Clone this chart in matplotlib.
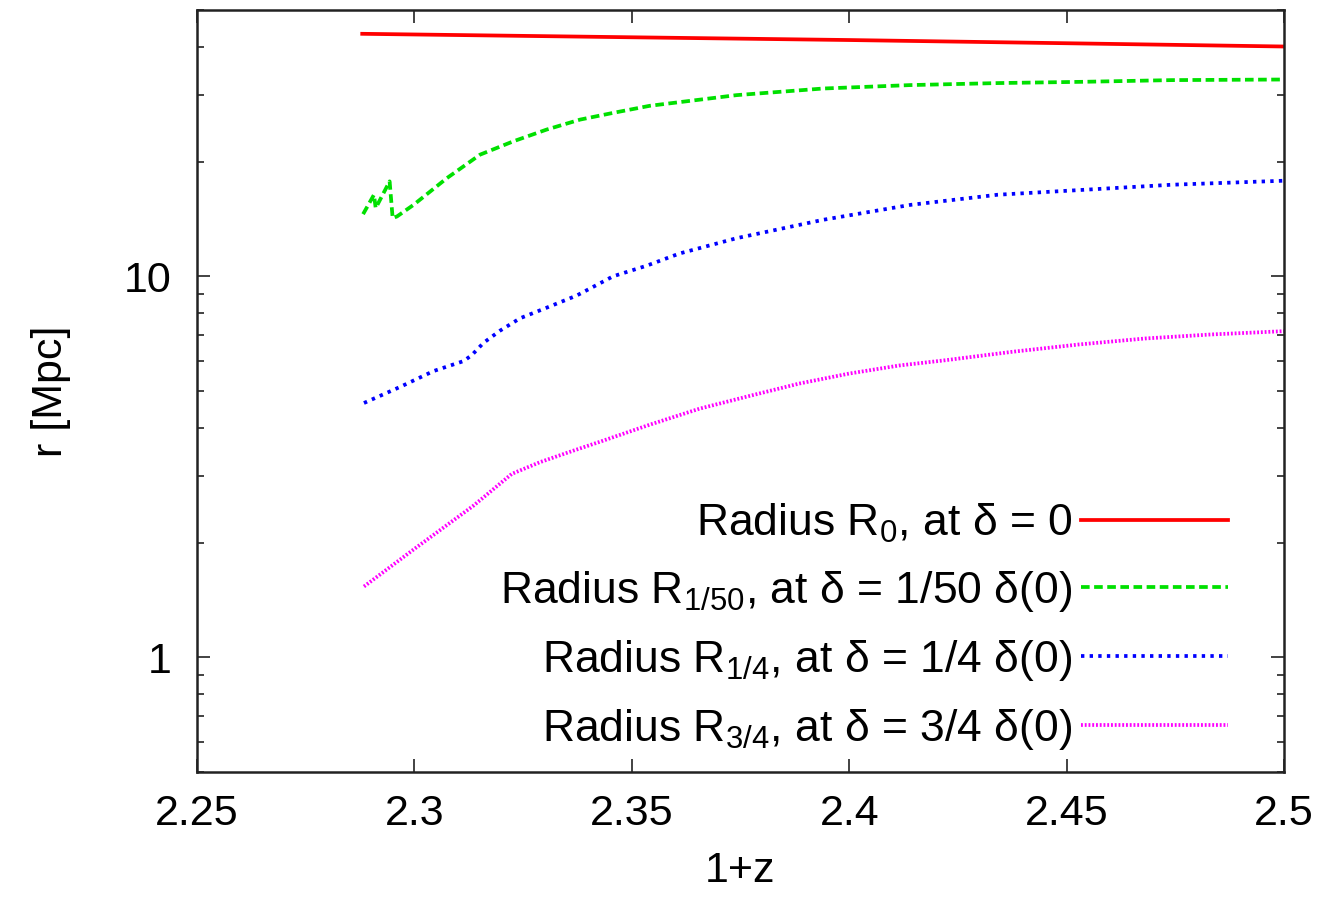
import matplotlib
matplotlib.use("Agg")
import matplotlib.pyplot as plt
from matplotlib.ticker import LogLocator, NullFormatter, FixedLocator, FixedFormatter

plt.rcParams['font.family'] = ['Liberation Sans', 'DejaVu Sans']
plt.rcParams['mathtext.fontset'] = 'custom'
plt.rcParams['mathtext.rm'] = 'Liberation Sans'
plt.rcParams['mathtext.it'] = 'Liberation Sans'
plt.rcParams['mathtext.default'] = 'regular'

# ---- data ----
x_r0 = [2.288, 2.35, 2.40, 2.45, 2.50]
y_r0 = [43.3, 42.4, 41.7, 40.9, 40.1]

x_r150 = [2.2882, 2.2907, 2.2911, 2.2943, 2.2950, 2.2960, 2.2998, 2.3075, 2.3151,
          2.3228, 2.3304, 2.3381, 2.3457, 2.3541, 2.3741, 2.3940, 2.4140, 2.4342,
          2.4541, 2.4741, 2.5000]
y_r150 = [14.56, 16.37, 15.10, 17.75, 14.21, 14.36, 15.40, 18.11, 20.86,
          22.62, 24.27, 25.78, 26.85, 28.02, 29.89, 31.11, 31.76, 32.15,
          32.40, 32.73, 32.85]

x_r14 = [2.2884, 2.2968, 2.3044, 2.3113, 2.3132, 2.3159, 2.3197, 2.3243, 2.3304,
         2.3373, 2.3411, 2.3457, 2.3534, 2.3610, 2.3741, 2.3940, 2.4141, 2.4341,
         2.4541, 2.4741, 2.5000]
y_r14 = [4.65, 5.13, 5.64, 5.99, 6.21, 6.69, 7.20, 7.76, 8.27,
         8.90, 9.38, 10.0, 10.66, 11.48, 12.59, 14.07, 15.40, 16.37,
         16.87, 17.39, 17.82]

x_r34 = [2.2884, 2.2998, 2.3136, 2.3224, 2.3289, 2.3365, 2.3427, 2.3541, 2.3656,
         2.3771, 2.3885, 2.4000, 2.4115, 2.4222, 2.4375, 2.4528, 2.4681, 2.4833,
         2.5000]
y_r34 = [1.534, 1.918, 2.501, 3.030, 3.253, 3.485, 3.680, 4.078, 4.494,
         4.854, 5.230, 5.556, 5.833, 6.023, 6.337, 6.623, 6.868, 7.037,
         7.178]

labels = ["Radius R$_{0}$, at δ = 0",
          "Radius R$_{1/50}$, at δ = 1/50 δ(0)",
          "Radius R$_{1/4}$, at δ = 1/4 δ(0)",
          "Radius R$_{3/4}$, at δ = 3/4 δ(0)"]
x_ticks = [2.25, 2.3, 2.35, 2.4, 2.45, 2.5]
x_ticklabels = ["2.25", "2.3", "2.35", "2.4", "2.45", "2.5"]
y_ticks = [1, 10]
y_ticklabels = ["1", "10"]

W, H = 1329, 908
fig = plt.figure(figsize=(W / 100, H / 100), dpi=100)
ax = fig.add_axes([197 / W, (H - 772) / H, (1284 - 197) / W, (772 - 10) / H])

lw = 2.7
ax.plot(x_r0, y_r0, color='#ff0000', lw=lw, label=labels[0])
ax.plot(x_r150, y_r150, color='#00e000', lw=lw, linestyle=(0, (2.3, 1.2)), label=labels[1])
ax.plot(x_r14, y_r14, color='#0000ff', lw=lw, linestyle=(0, (0.9, 1.4)), label=labels[2])
ax.plot(x_r34, y_r34, color='#ff00ff', lw=lw, linestyle=(0, (0.5, 0.5)), label=labels[3])

ax.set_yscale('log')
ax.set_xlim(2.25, 2.5)
ax.set_ylim(0.5, 50)
ax.xaxis.set_major_locator(FixedLocator(x_ticks))
ax.xaxis.set_major_formatter(FixedFormatter(x_ticklabels))
ax.yaxis.set_minor_locator(LogLocator(base=10, subs=range(2, 10), numticks=10))
ax.yaxis.set_minor_formatter(NullFormatter())
ax.set_yticks(y_ticks)
ax.set_yticklabels(y_ticklabels)

ax.tick_params(which='both', direction='in', top=True, right=True, color='#222222')
ax.tick_params(which='major', length=9.5, width=1.2)
ax.tick_params(which='minor', length=5, width=1.2)
ax.tick_params(axis='x', which='major', pad=16, labelsize=31)
ax.tick_params(axis='y', which='major', pad=18, labelsize=31)
for s in ax.spines.values():
    s.set_linewidth(1.8)
    s.set_color('#222222')

ax.set_xlabel("1+z", fontsize=31, labelpad=12)
ax.set_ylabel("r [Mpc]", fontsize=31, labelpad=38)

leg = ax.legend(loc='lower right', bbox_to_anchor=(1228 / W, (H - 752) / H),
                bbox_transform=fig.transFigure, frameon=False, markerfirst=False,
                fontsize=32, handlelength=3.3, handletextpad=0.2,
                labelspacing=0.54, borderpad=0, borderaxespad=0)
for t in leg.get_texts():
    t.set_ha('right')

fig.savefig("out.png", dpi=100)
